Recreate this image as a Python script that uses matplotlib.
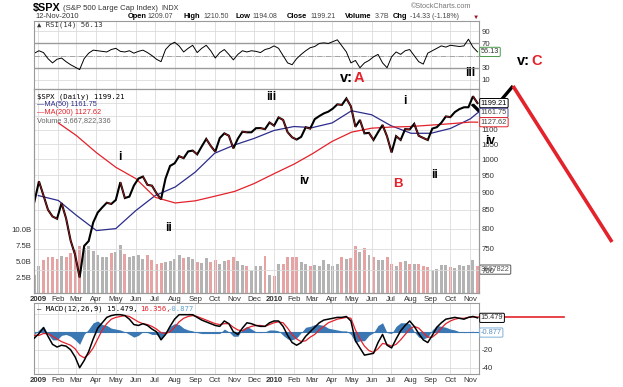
import matplotlib.pyplot as plt
import matplotlib.dates as mdates
import matplotlib.ticker as mticker
import numpy as np
import pandas as pd

plt.rcParams['font.family'] = ['Liberation Sans', 'DejaVu Sans']

# weekly closes (Fridays), Dec 26 2008 .. Nov 12 2010
weeks = pd.date_range('2008-12-26', '2010-11-12', freq='W-FRI')
close = [872.8,
         931.8, 890.35, 850.12, 831.95, 825.88, 868.60, 826.84, 770.05, 735.09,
         683.38, 756.55, 768.54, 815.94, 842.50, 856.56, 869.60, 866.23, 877.52,
         929.23, 882.88, 887.00, 919.14, 940.09, 946.21, 921.23, 918.90, 896.42,
         879.13, 940.38, 979.26, 987.48, 1010.48, 1004.09, 1026.13, 1028.93,
         1016.40, 1042.73, 1068.30, 1044.38, 1025.21, 1071.49, 1087.68, 1079.60,
         1036.19, 1069.30, 1093.48, 1091.38, 1091.49, 1105.98, 1106.41, 1102.47,
         1126.48, 1115.10,
         1144.98, 1136.03, 1091.76, 1073.87, 1066.19, 1075.51, 1109.17, 1104.49,
         1138.70, 1149.99, 1159.90, 1166.59, 1178.10, 1194.37, 1192.13, 1217.28,
         1186.69, 1110.88, 1135.68, 1087.69, 1089.41, 1064.88, 1091.60, 1117.51,
         1076.76, 1022.58, 1077.96, 1064.88, 1102.66, 1101.60, 1121.64, 1079.25,
         1071.69, 1064.59, 1104.51, 1109.55, 1125.59, 1148.67, 1146.24, 1165.15,
         1176.19, 1183.08, 1183.26, 1225.85, 1199.21]
# average daily volume per week, billions
volume = [2.8,
          4.3, 5.2, 5.6, 5.6, 5.3, 5.8, 5.6, 6.3, 6.8, 7.3, 7.0, 7.4, 6.6,
          6.0, 5.7, 5.6, 6.2, 6.4, 7.6, 6.1, 5.6, 5.8, 5.9, 5.3, 6.0, 5.2,
          4.6, 4.7, 4.8, 5.0, 5.4, 5.9, 5.5, 5.7, 5.3, 4.9, 4.7, 5.5, 4.8,
          5.2, 4.6, 5.0, 5.1, 5.6, 5.0, 4.4, 4.3, 3.4, 4.3, 4.2, 5.8, 2.8, 2.6,
          4.5, 4.6, 5.6, 5.7, 5.6, 4.8, 4.5, 4.3, 4.4, 4.3, 5.2, 4.5,
          4.2, 4.5, 5.6, 5.4, 5.5, 7.4, 6.4, 7.1, 5.9, 5.7, 5.2, 5.1, 5.6,
          4.6, 4.3, 4.9, 5.0, 4.6, 4.5, 4.6, 4.2, 4.1, 3.6, 3.8, 4.4, 4.4,
          4.1, 4.0, 4.4, 4.2, 4.4, 5.1, 4.3]
rsi = [54, 58, 55, 45, 38, 44, 46, 40, 35, 31, 27, 45, 54, 59, 58, 57, 56,
       60, 62, 57, 56, 58, 54, 57, 59, 55, 50, 44, 40, 60, 68, 72, 66, 56, 62,
       67, 55, 62, 67, 58, 46, 55, 60, 52, 43, 52, 58, 56, 58, 57, 55, 60, 62,
       66, 62, 50, 38, 35, 45, 52, 58, 63, 65, 70, 71, 70, 73, 76, 66, 56, 38,
       42, 30, 38, 42, 48, 52, 38, 30, 48, 56, 52, 58, 60, 50, 40, 36, 54, 58,
       62, 66, 64, 67, 66, 65, 66, 77, 64, 56.13]
macd = [-7, -2, 4.5, -5, -14, -17, -15, -16, -20, -28,
        -40, -32, -22, -8, 4, 10, 16, 18, 19, 19,
        18, 14, 8, 7, 9, 7, 3, 0, -9, -3,
        6, 14, 19, 19, 19, 19, 16, 13, 11, 9,
        7, 6, 12, 9, 0, -3, 4, 10, 9, 7,
        6, 6, 10, 12, 12, 6, -4, -12, -15, -12,
        -5, 0, 5, 10, 13, 14, 15, 16, 16, 17,
        12, -10, -18, -26, -25, -24, -12, -3, -15, -18,
        -8, 1, 7, 12, 6, -2, -9, -12, -4, 5,
        10, 14, 15, 16, 15, 14, 16, 17, 15.479]
signal = [-4, -4, -2, -2, -5, -8, -11, -13, -15, -19,
          -26, -29, -25, -18, -8, 2, 9, 14, 16, 17,
          18, 17, 14, 11, 9, 8, 6, 3, -1, -2,
          0, 5, 11, 15, 17, 18, 17, 15, 13, 11,
          9, 8, 9, 9, 5, 2, 1, 4, 6, 7,
          7, 6, 8, 10, 11, 10, 4, -3, -8, -11,
          -10, -6, -3, 2, 6, 10, 12, 14, 15, 16,
          15, 2, -8, -16, -21, -23, -19, -13, -14, -16,
          -14, -9, -3, 3, 6, 4, -1, -6, -6, -2,
          4, 9, 12, 14, 15, 15, 16, 16.5, 16.356]

# moving averages read at month starts (+ last day)
month_starts = pd.date_range('2009-01-01', '2010-11-01', freq='MS')
ma_dates = list(month_starts) + [pd.Timestamp('2010-11-12')]
ma50 = [890, 876, 835, 795, 800, 848, 890, 915, 960, 1020, 1048, 1070, 1098,
        1112, 1108, 1125, 1170, 1155, 1115, 1088, 1088, 1105, 1140, 1161.75]
ma200 = [1125, 1080, 1022, 975, 940, 885, 869, 875, 888, 902, 925, 955,
         985, 1018, 1060, 1092, 1106, 1110, 1112, 1117, 1122, 1128, 1127.62]

month_labels = ['2009', 'Feb', 'Mar', 'Apr', 'May', 'Jun', 'Jul', 'Aug', 'Sep',
                'Oct', 'Nov', 'Dec', '2010', 'Feb', 'Mar', 'Apr', 'May', 'Jun',
                'Jul', 'Aug', 'Sep', 'Oct', 'Nov']

W, H = 623, 387
fig = plt.figure(figsize=(W / 100, H / 100), dpi=100)


def rect(x0, y0, x1, y1):
    return [x0 / W, 1 - y1 / H, (x1 - x0) / W, (y1 - y0) / H]


def ftxt(x, y, s, **kw):
    kw.setdefault('va', 'center')
    return fig.text(x / W, 1 - y / H, s, **kw)


GRID = '#dcdcdc'
SPINE = '#9a9a9a'
RED = '#e3222b'
BLUE = '#2c2c8c'
xlim = (mdates.date2num(pd.Timestamp('2008-12-25 08:00')),
        mdates.date2num(pd.Timestamp('2010-11-14 08:00')))
x = mdates.date2num(weeks)
close = np.array(close)
down = np.r_[False, close[1:] < close[:-1]]

ax_r = fig.add_axes(rect(34, 21, 479, 89))
ax_v = fig.add_axes(rect(34, 89, 479, 293))
ax_p = fig.add_axes(rect(34, 89, 479, 293))
ax_m = fig.add_axes(rect(34, 303, 479, 374))
ax_v.set_zorder(1)
ax_p.set_zorder(2)
ax_p.patch.set_visible(False)

for ax in (ax_r, ax_v, ax_p, ax_m):
    ax.set_xlim(xlim)
    ax.set_xticks(mdates.date2num(month_starts))
    ax.tick_params(length=0, labelsize=5.6, colors='#333333', pad=2)
    for s in ax.spines.values():
        s.set_color(SPINE)
        s.set_linewidth(0.8)
for ax in (ax_r, ax_p, ax_m):
    ax.grid(True, color=GRID, lw=0.6)
    ax.set_axisbelow(True)


def right_ticks(ax, ticks, hidden=()):
    ax.yaxis.set_major_locator(mticker.FixedLocator(ticks))
    ax.yaxis.set_major_formatter(mticker.FixedFormatter(
        ['' if t in hidden else str(t) for t in ticks]))
    ax.yaxis.set_minor_locator(mticker.NullLocator())
    ax.yaxis.tick_right()


# --- RSI panel
ax_r.plot(x, rsi, color='black', lw=0.7)
ax_r.set_ylim(-5, 107)
right_ticks(ax_r, [10, 30, 50, 70, 90], hidden=(50,))
ax_r.set_xticklabels([])
for lvl in (30, 70):
    ax_r.axhline(lvl, color='#9a9a9a', lw=1.0, zorder=1)
ax_r.axhline(50, color='#9a9a9a', lw=0.6, ls='-.', zorder=1)
ax_r.text(1.004, rsi[-1], '56.13', transform=ax_r.get_yaxis_transform(),
          fontsize=5.3, va='center', color='#333333', clip_on=False,
          bbox=dict(boxstyle='round,pad=0.15', fc='white', ec='#4a9a4a', lw=0.7))

# --- volume (behind price)
vcol = np.where(down, '#e6a3a3', '#b3b3b3')
ax_v.bar(x, volume, width=4.6, color=vcol, linewidth=0)
ax_v.set_ylim(0, 32)
ax_v.set_yticks([2.5, 5, 7.5, 10])
ax_v.set_yticklabels(['2.5B', '5.0B', '7.5B', '10.0B'])
ax_v.set_xticklabels([])
ax_v.text(1.004, 3.67, '3667822', transform=ax_v.get_yaxis_transform(),
          fontsize=5.3, va='center', color='#555555', clip_on=False, zorder=5,
          bbox=dict(boxstyle='round,pad=0.15', fc='white', ec='#555555', lw=0.7))

# --- price panel
ax_p.set_yscale('log')
ax_p.set_ylim(650, 1255)
right_ticks(ax_p, list(range(700, 1201, 50)), hidden=(1150, 1200))
ax_p.plot(ma_dates, ma50, color=BLUE, lw=0.9)
ax_p.plot(ma_dates[1:], ma200, color=RED, lw=0.9)
ax_p.plot(x, close, color='black', lw=1.5, solid_joinstyle='miter')
for i in np.nonzero(down)[0]:
    ax_p.plot(x[i - 1:i + 1], close[i - 1:i + 1], color='#c41c1c', lw=0.5)
ax_p.set_xticklabels(month_labels)
for lab in ax_p.get_xticklabels():
    if lab.get_text().isdigit():
        lab.set_fontweight('bold')

ytr = ax_p.get_yaxis_transform()
for val, ec, tc in ((1199.21, 'black', 'black'), (1161.75, '#4a4a9a', '#444444'),
                    (1127.62, RED, '#444444')):
    ax_p.text(1.004, val, f'{val:.2f}', transform=ytr, fontsize=5.3, va='center',
              color=tc, clip_on=False,
              bbox=dict(boxstyle='round,pad=0.15', fc='white', ec=ec, lw=0.7))

# --- MACD panel
macd = np.array(macd)
signal = np.array(signal)
hist = macd - signal
ax_m.fill_between(x, hist, 0, color='#3b78b3', lw=0, zorder=2)
ax_m.axhline(0, color='#3b78b3', lw=0.8, zorder=2)
ax_m.plot(x, signal, color=RED, lw=0.9, zorder=3)
ax_m.plot(x, macd, color='black', lw=1.1, zorder=4)
ax_m.set_ylim(-47, 32)
right_ticks(ax_m, [-40, -20, 0, 20], hidden=(0, 20))
ax_m.set_xticklabels(month_labels)
for lab in ax_m.get_xticklabels():
    if lab.get_text().isdigit():
        lab.set_fontweight('bold')
mtr = ax_m.get_yaxis_transform()
ax_m.plot([1.0, 1.19], [signal[-1], signal[-1]], transform=mtr, color=RED,
          lw=1.2, clip_on=False)
ax_m.text(1.004, macd[-1], '15.479', transform=mtr, fontsize=5.3, va='center',
          color='#333333', clip_on=False,
          bbox=dict(boxstyle='round,pad=0.15', fc='white', ec='black', lw=0.7))
ax_m.text(1.004, hist[-1], f'{hist[-1]:.3f}', transform=mtr, fontsize=5.3,
          va='center', color='#5a8fc0', clip_on=False,
          bbox=dict(boxstyle='round,pad=0.15', fc='white', ec='#7fb0d8', lw=0.7))

# --- header
ftxt(33, 8, '$SPX', fontsize=7.8, fontweight='bold')
ftxt(63, 8.5, '(S&P 500 Large Cap Index)', fontsize=5.6, color='#333333')
ftxt(161, 8.5, 'INDX', fontsize=5.2, color='#333333')
ftxt(411, 7, '\u00a9StockCharts.com', fontsize=5.2, color='#777777')
ftxt(35, 17, '12-Nov-2010', fontsize=5.4, color='#333333')
for xx, s, b in ((128, 'Open', True), (147, '1209.07', False), (183, 'High', True),
                 (203, '1210.50', False), (235, 'Low', True), (252, '1194.08', False),
                 (287, 'Close', True), (310, '1199.21', False), (345, 'Volume', True),
                 (375, '3.7B', False), (393, 'Chg', True),
                 (410, '-14.33 (-1.18%)', False)):
    ftxt(xx, 17, s, fontsize=5.4 if b else 5.0, fontweight='bold' if b else 'normal',
         color='black' if b else '#444444')
ftxt(473, 17, '\u25bc', fontsize=4.5, color='#a01020')

# panel legends
ftxt(37, 25, '\u25b2 RSI(14) 56.13', fontsize=5.2, family='DejaVu Sans Mono',
     color='#333333')
ftxt(37, 97, '$SPX (Daily) 1199.21', fontsize=5.2, family='DejaVu Sans Mono')
ftxt(37, 105, '\u2014MA(50) 1161.75', fontsize=5.3, color=BLUE)
ftxt(37, 113, '\u2014MA(200) 1127.62', fontsize=5.3, color=RED)
ftxt(37, 121, 'Volume 3,667,822,336', fontsize=5.3, color='#666666')
ftxt(37, 309, '\u2014 MACD(12,26,9) 15.479,', fontsize=5.2,
     family='DejaVu Sans Mono')
ftxt(140, 309, '16.356,', fontsize=5.2, family='DejaVu Sans Mono', color=RED)
ftxt(168, 309, '-0.877', fontsize=5.2, family='DejaVu Sans Mono', color='#5fa0d0')

# Elliott wave labels
wave = dict(fontsize=8.5, fontweight='bold', ha='center')
ftxt(271, 97, 'iii', **wave)
ftxt(120, 157, 'i', **wave)
ftxt(169, 228, 'ii', **wave)
ftxt(304, 181, 'iv', **wave)
ftxt(405, 101, 'i', **wave)
ftxt(434, 175, 'ii', **wave)
ftxt(490, 141, 'iv', **wave)
ftxt(398, 184, 'B', fontsize=9.5, fontweight='bold', color=RED, ha='center')
ftxt(470, 73, 'iii', fontsize=8.5, fontweight='bold', ha='center')
ftxt(340, 78, 'v:', fontsize=10.5, fontweight='bold')
ftxt(354, 78, 'A', fontsize=10.5, fontweight='bold', color=RED)
ftxt(517, 61, 'v:', fontsize=10.5, fontweight='bold')
ftxt(531, 61, 'C', fontsize=10.5, fontweight='bold', color=RED)

# projected path
fig.add_artist(plt.Line2D(np.array([472, 486, 513]) / W,
                          1 - np.array([104, 118, 86]) / H,
                          color='black', lw=2.4, solid_capstyle='butt'))
fig.add_artist(plt.Line2D(np.array([513, 612]) / W, 1 - np.array([86, 242]) / H,
                          color=RED, lw=2.6, solid_capstyle='butt'))

fig.savefig('out.png', dpi=100)
